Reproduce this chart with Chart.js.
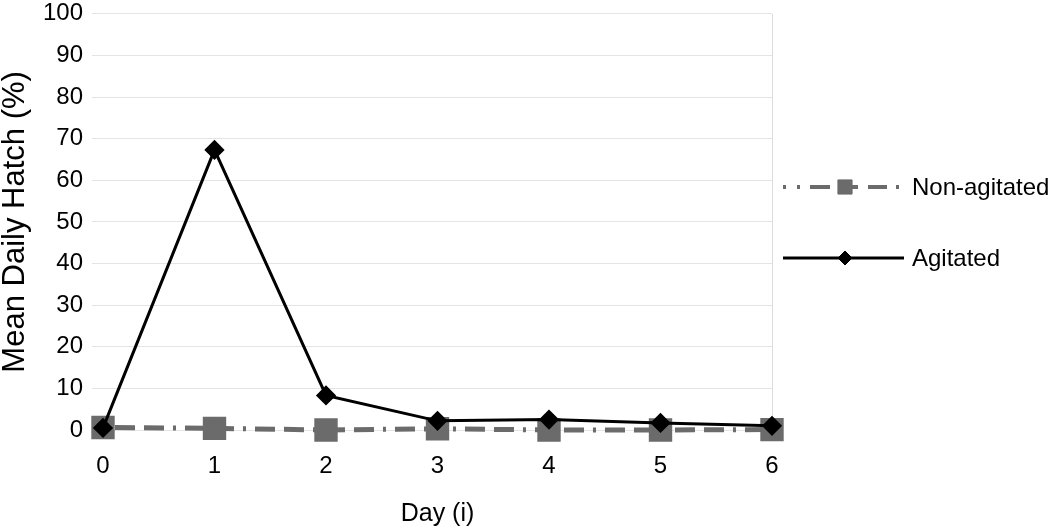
<!DOCTYPE html>
<html>
<head>
<meta charset="utf-8">
<script src="https://cdn.jsdelivr.net/npm/chart.js@4"></script>
<style>
  html, body { margin: 0; padding: 0; background: #fff; }
  #wrap { width: 1050px; height: 529px; }
</style>
</head>
<body>
<div id="wrap"><canvas id="hatch"></canvas></div>
<script>
const days = [0, 1, 2, 3, 4, 5, 6]
const nonAgitated = [0.6, 0.4, 0.0, 0.3, 0.0, 0.0, 0.1]
const agitated = [0.5, 67.3, 8.3, 2.2, 2.5, 1.7, 1.0]
const yTicks = [0, 10, 20, 30, 40, 50, 60, 70, 80, 90, 100]

Chart.defaults.font.family = "'Liberation Sans', Arial, sans-serif"
Chart.defaults.color = '#000'

// big end markers should not push the plot area inwards
Chart.LineController.prototype.getMaxOverflow = function () { return 0 }

const pts = (vals) => days.map((d, i) => ({ x: d, y: vals[i] }))

// legend on the right, line with marker in the middle like the original
const sideLegend = {
  id: 'sideLegend',
  afterDraw(chart) {
    const ctx = chart.ctx
    const items = [
      { ds: chart.data.datasets[1], y: 187, r: 10, w: 4, dash: [3, 11, 3, 10, 20, 8, 20, 10, 19, 9, 3, 40] },
      { ds: chart.data.datasets[0], y: 258, r: 7, w: 3, dash: [] }
    ]
    items.forEach(it => {
      const ds = it.ds
      ctx.save()
      ctx.strokeStyle = ds.borderColor
      ctx.lineWidth = it.w
      ctx.lineCap = 'butt'
      ctx.setLineDash(it.dash)
      ctx.beginPath()
      ctx.moveTo(783, it.y)
      ctx.lineTo(904, it.y)
      ctx.stroke()
      ctx.setLineDash([])
      ctx.fillStyle = ds.pointBackgroundColor
      ctx.strokeStyle = ds.pointBorderColor
      ctx.lineWidth = 1
      Chart.helpers.drawPoint(ctx, {
        pointStyle: ds.pointStyle,
        radius: it.r,
        rotation: 0,
        borderWidth: 1
      }, 845, it.y)
      ctx.fillStyle = '#000'
      ctx.font = "24px 'Liberation Sans', Arial, sans-serif"
      ctx.textBaseline = 'middle'
      ctx.fillText(ds.label, 912, it.y + 1)
      ctx.restore()
    })
  }
}

new Chart(document.getElementById('hatch'), {
  type: 'line',
  data: {
    datasets: [{
      label: 'Agitated',
      data: pts(agitated),
      borderColor: '#000',
      borderWidth: 3,
      pointStyle: 'rectRot',
      pointRadius: 8,
      pointBackgroundColor: '#000',
      pointBorderColor: '#000',
      tension: 0,
      clip: false,
      order: 1
    }, {
      label: 'Non-agitated',
      data: pts(nonAgitated),
      borderColor: '#6b6b6b',
      borderWidth: 5,
      borderDash: [3, 9, 20, 9, 20, 9],
      pointStyle: 'rect',
      pointRadius: 13,
      pointBackgroundColor: '#6b6b6b',
      pointBorderColor: '#6b6b6b',
      tension: 0,
      clip: false,
      order: 2
    }]
  },
  options: {
    responsive: true,
    maintainAspectRatio: false,
    animation: false,
    layout: { padding: { top: 10, right: 278, left: 0, bottom: 0 } },
    plugins: { legend: { display: false }, tooltip: { enabled: false } },
    scales: {
      x: {
        type: 'linear',
        min: 0,
        max: 6,
        ticks: { stepSize: 1, font: { size: 24, lineHeight: 1 }, padding: 24 },
        grid: {
          color: (c) => c.tick && c.tick.value === 6 ? '#dcdcdc' : 'rgba(0,0,0,0)',
          drawTicks: false
        },
        border: { display: false },
        title: { display: true, text: 'Day (i)', font: { size: 25 }, padding: { top: 0, bottom: 0 } },
        afterFit: (axis) => { axis.height = 99 }
      },
      y: {
        min: 0,
        max: 100,
        afterBuildTicks: (axis) => { axis.ticks = yTicks.map(v => ({ value: v })) },
        ticks: { font: { size: 24, lineHeight: 0.4 }, padding: 9 },
        grid: { color: '#e4e4e4', tickLength: 11, tickColor: '#e4e4e4' },
        border: { display: false },
        title: { display: true, text: 'Mean Daily Hatch (%)', font: { size: 31 }, padding: { top: -3, bottom: 0 } },
        afterFit: (axis) => { axis.width = 103 }
      }
    }
  },
  plugins: [sideLegend]
})
</script>
</body>
</html>
